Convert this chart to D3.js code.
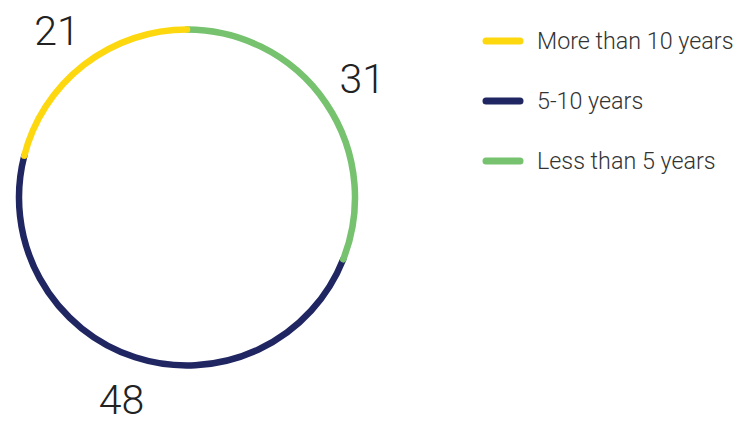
<!DOCTYPE html>
<html>
<head>
<meta charset="utf-8">
<script src="https://cdn.jsdelivr.net/npm/d3@7"></script>
<style>
  body { margin: 0; background: #fff; }
  svg { display: block; font-family: Roboto, "Liberation Sans", sans-serif; }
</style>
</head>
<body>
<svg id="chart" width="737" height="421"></svg>
<script>
// ring chart data, clockwise from 12 o'clock
const categories = ["Less than 5 years", "5-10 years", "More than 10 years"];
const values = [31, 48, 21];
const colors = ["#76c26f", "#1f2661", "#fdd80f"];
// legend is listed top to bottom in this order
const legendOrder = ["More than 10 years", "5-10 years", "Less than 5 years"];
// draw order so that overlapping round caps stack like the original
const drawOrder = ["5-10 years", "Less than 5 years", "More than 10 years"];

const svg = d3.select("#chart");
const cx = 187, cy = 197.5, r = 168;

const color = d3.scaleOrdinal().domain(categories).range(colors);

const pie = d3.pie().sort(null).value(d => d.value);
const arcs = pie(categories.map((c, i) => ({ name: c, value: values[i] })));

const g = svg.append("g").attr("transform", `translate(${cx},${cy})`);

// each segment is a stroked arc with rounded ends
const ordered = drawOrder.map(n => arcs.find(a => a.data.name === n));
g.selectAll("path.seg")
  .data(ordered)
  .join("path")
  .attr("class", "seg")
  .attr("d", d => {
    const p = d3.path();
    p.arc(0, 0, r, d.startAngle - Math.PI / 2, d.endAngle - Math.PI / 2);
    return p.toString();
  })
  .attr("fill", "none")
  .attr("stroke", d => color(d.data.name))
  .attr("stroke-width", 6.5)
  .attr("stroke-linecap", "round");

// value labels outside the ring at the middle of each segment
const labelArc = d3.arc().innerRadius(212).outerRadius(212);
g.selectAll("text.val")
  .data(arcs)
  .join("text")
  .attr("class", "val")
  .attr("transform", d => `translate(${labelArc.centroid(d)})`)
  .attr("text-anchor", "middle")
  .attr("dy", "0.36em")
  .attr("font-size", 41)
  .attr("font-weight", 300)
  .attr("fill", "#222")
  .text(d => d.value);

// legend
const legendY = d3.scalePoint().domain(legendOrder).range([41, 161]);
const leg = svg.append("g").selectAll("g")
  .data(legendOrder)
  .join("g")
  .attr("transform", d => `translate(0,${legendY(d)})`);

leg.append("line")
  .attr("x1", 486).attr("x2", 520)
  .attr("stroke", d => color(d))
  .attr("stroke-width", 7)
  .attr("stroke-linecap", "round");

leg.append("text")
  .attr("x", 537)
  .attr("dy", "0.36em")
  .attr("font-size", 23.3)
  .attr("font-weight", 300)
  .attr("fill", "#333")
  .text(d => d);
</script>
</body>
</html>
